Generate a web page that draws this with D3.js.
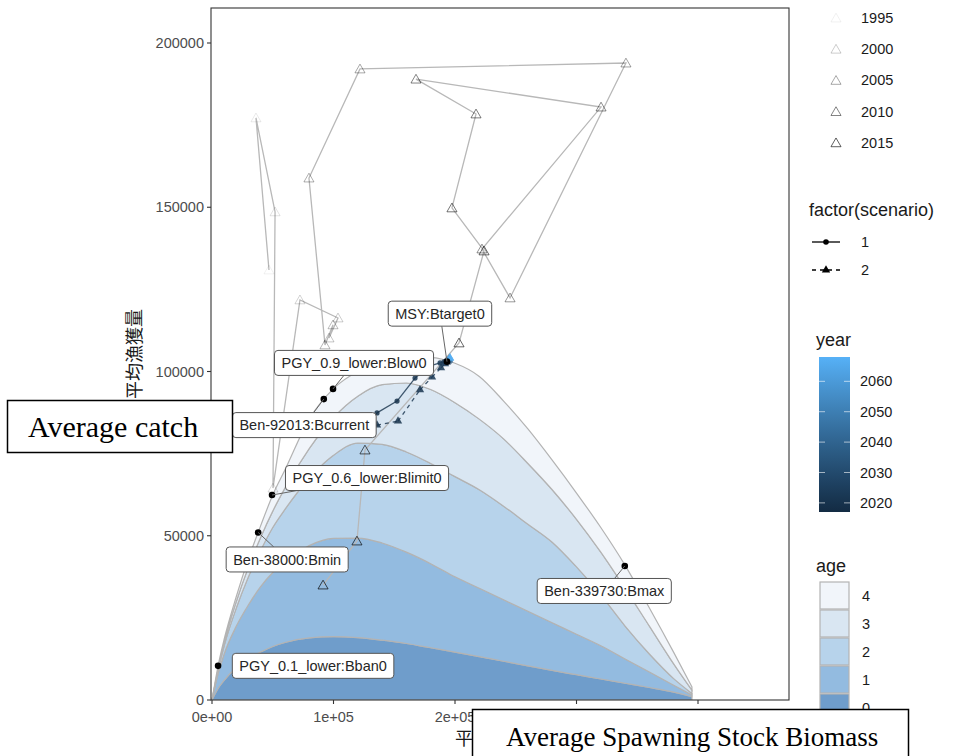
<!DOCTYPE html>
<html>
<head>
<meta charset="utf-8">
<script src="https://cdn.jsdelivr.net/npm/d3@7"></script>
<style>
  body { margin: 0; background: #fff; }
  svg { display: block; }
</style>
</head>
<body>
<svg id="chart" width="959" height="756"></svg>
<script>
// ---------------- data ----------------
// equilibrium catch by age along a grid of average spawning stock biomass
const ssbGrid   = [0,5000,10000,20000,30000,40000,50000,60000,80000,100000,120000,140000,160000,180000,200000,220000,240000,260000,280000,300000,320000,340000,360000,380000,395000];
const catchAge0 = [0,3500,6000,9800,12500,14600,16300,17500,18900,19300,19000,18200,17200,15900,14600,13200,11800,10400,9000,7700,6400,5100,3800,2400,1000];
const catchAge1 = [0,4500,8000,12700,16500,19900,22500,24500,28100,29900,30300,29600,27800,25600,22900,20800,18700,16600,14500,12300,10100,7400,4700,2100,500];
const catchAge2 = [0,1000,2500,5500,8500,11000,13700,16000,20500,25300,28900,30000,30500,30500,30500,30000,28500,26500,24500,20500,15500,10000,5500,2000,500];
const catchAge3 = [0,500,1000,2000,3000,4000,5000,6500,9000,11500,14300,18200,21000,22500,22500,21500,20500,18500,16000,14500,13000,11500,8500,4500,1000];
const catchAge4 = [0,900,1000,1500,2500,3500,4900,5500,9000,8800,7500,6800,7500,9700,12000,13000,11500,10500,9000,8000,7500,7000,5500,3500,1000];
const ageNames  = ["0","1","2","3","4"];

// historical stock-catch trajectory
const histYear  = [1995,1996,1997,1998,1999,2000,2001,2002,2003,2004,2005,2006,2007,2008,2009,2010,2011,2012,2013,2014,2015,2016,2017];
const histSSB   = [46900,36200,51900,50200,72400,103700,96300,99600,93000,79800,121800,340700,245300,222200,320200,167900,217300,197500,223900,203300,125900,119300,91400];
const histCatch = [130900,177200,148600,64500,121800,116300,110200,114200,108100,158900,192100,193900,122400,137300,180500,189000,178400,149800,136700,108700,76100,48400,35000];

// future projections for two harvest scenarios
const projYear   = [2018,2019,2020,2021,2022,2023,2024,2026,2030,2040,2050,2060,2068];
const scen1SSB   = [121800,135800,152300,167100,179400,187700,190900,192600,193400,194200,194600,195100,195100];
const scen1Catch = [82800,87400,91000,98000,101700,102600,102900,103200,103200,103500,103600,103800,103800];
const scen2SSB   = [121800,135800,153100,171200,181100,188500,191800,193400,194200,195100,195100,195900,195900];
const scen2Catch = [82800,83700,84900,94400,98300,101100,102300,102900,103200,103500,103800,104100,104100];

// reference points
const refNames = ["PGY_0.1_lower:Bban0","Ben-38000:Bmin","PGY_0.6_lower:Blimit0","Ben-92013:Bcurrent","PGY_0.9_lower:Blow0","MSY:Btarget0","Ben-339730:Bmax"];
const refSSB   = [5000,38000,49400,92013,99600,193400,339730];
const refCatch = [10400,51000,62400,91600,94700,103000,40800];

// axis ticks
const xTicks = [0,100000,200000,300000,400000];
const xTickLabels = ["0e+00","1e+05","2e+05","3e+05","4e+05"];
const yTicks = [0,50000,100000,150000,200000];
const histLegendYears = [1995,2000,2005,2010,2015];
const yearBarTicks = [2020,2030,2040,2050,2060];

// ---------------- layout ----------------
const svg = d3.select("#chart");
const panel = { left: 211, right: 789, top: 8, bottom: 700 };
const x = d3.scaleLinear().domain([0, 400000]).range([212, 698]);
const y = d3.scaleLinear().domain([0, 200000]).range([700, 43]);

const ageFill = ["#6f9dcb", "#93bbe0", "#b7d3eb", "#d9e6f2", "#f1f5fa"];
const yearColor = d3.scaleLinear().domain([2017, 2068]).range(["#132B43", "#56B1F7"]).interpolate(d3.interpolateLab);
const histAlpha = d3.scaleLinear().domain([1995, 2017]).range([0.06, 0.68]);

// label placement around each reference point (pixel offsets of the label centre)
const labelNudge = [[95,0],[29,27],[95,-17],[-19.5,26],[21,-26],[-7,-48],[-20.5,25]];

const sans = "'Liberation Sans', Arial, sans-serif";
const cjk = "'Noto Sans CJK JP', 'Noto Sans CJK SC', sans-serif";
const serif = "'Liberation Serif', 'Times New Roman', serif";

svg.append("rect").attr("width", 959).attr("height", 756).attr("fill", "#fff");

const defs = svg.append("defs");
defs.append("clipPath").attr("id", "panelClip")
  .append("rect").attr("x", panel.left).attr("y", panel.top)
  .attr("width", panel.right - panel.left).attr("height", panel.bottom - panel.top);

const plot = svg.append("g").attr("clip-path", "url(#panelClip)");

// ---- stacked catch-by-age areas ----
const ageCols = [catchAge0, catchAge1, catchAge2, catchAge3, catchAge4];
const rows = ssbGrid.map((s, i) => {
  const r = { ssb: s };
  ageNames.forEach((a, k) => r["a" + a] = ageCols[k][i]);
  return r;
});
const stacked = d3.stack().keys(ageNames.map(a => "a" + a))(rows);
const area = d3.area()
  .x(d => x(d.data.ssb)).y0(d => y(d[0])).y1(d => y(d[1]))
  .curve(d3.curveMonotoneX);
plot.selectAll("path.age").data(stacked).join("path")
  .attr("class", "age")
  .attr("d", area)
  .attr("fill", (d, i) => ageFill[i])
  .attr("stroke", "#b3b3b3").attr("stroke-width", 1.2);

// ---- historical trajectory ----
const hist = histYear.map((yr, i) => ({ year: yr, ssb: histSSB[i], c: histCatch[i] }));
plot.append("path")
  .attr("d", d3.line().x(d => x(d.ssb)).y(d => y(d.c))(hist))
  .attr("fill", "none").attr("stroke", "#b8b8b8").attr("stroke-width", 1.3);
const tri = d3.symbol().type(d3.symbolTriangle).size(44);
plot.selectAll("path.hist").data(hist).join("path")
  .attr("class", "hist")
  .attr("d", tri)
  .attr("transform", d => `translate(${x(d.ssb)},${y(d.c) + 1})`)
  .attr("fill", "none").attr("stroke", "#000")
  .attr("stroke-opacity", d => histAlpha(d.year)).attr("stroke-width", 1);

// ---- projections ----
function drawScenario(ssb, ct, dashed, marker) {
  const pts = projYear.map((yr, i) => ({ year: yr, ssb: ssb[i], c: ct[i] }));
  const g = plot.append("g");
  for (let i = 0; i < pts.length - 1; i++) {
    g.append("line")
      .attr("x1", x(pts[i].ssb)).attr("y1", y(pts[i].c))
      .attr("x2", x(pts[i + 1].ssb)).attr("y2", y(pts[i + 1].c))
      .attr("stroke", yearColor(pts[i].year)).attr("stroke-width", 1.3)
      .attr("stroke-opacity", 0.8)
      .attr("stroke-dasharray", dashed ? "4,4" : null);
  }
  if (marker === "circle") {
    g.selectAll("circle").data(pts).join("circle")
      .attr("cx", d => x(d.ssb)).attr("cy", d => y(d.c)).attr("r", 2.6)
      .attr("fill", d => yearColor(d.year)).attr("fill-opacity", 0.85);
  } else {
    g.selectAll("path").data(pts).join("path")
      .attr("d", d3.symbol().type(d3.symbolTriangle).size(30))
      .attr("transform", d => `translate(${x(d.ssb)},${y(d.c)})`)
      .attr("fill", d => yearColor(d.year)).attr("fill-opacity", 0.85);
  }
}
drawScenario(scen1SSB, scen1Catch, false, "circle");
drawScenario(scen2SSB, scen2Catch, true, "triangle");

// ---- reference points with boxed labels ----
const refs = refNames.map((n, i) => ({ name: n, ssb: refSSB[i], c: refCatch[i], nudge: labelNudge[i] }));
plot.selectAll("circle.ref").data(refs).join("circle")
  .attr("class", "ref")
  .attr("cx", d => x(d.ssb)).attr("cy", d => y(d.c)).attr("r", 3.3)
  .attr("fill", "#000");

const labG = plot.append("g");
refs.forEach(d => {
  const px = x(d.ssb), py = y(d.c);
  const cx = px + d.nudge[0], cy = py + d.nudge[1];
  const g = labG.append("g");
  const seg = g.append("line");
  const box = g.append("rect");
  const t = g.append("text")
    .attr("x", cx).attr("y", cy).attr("text-anchor", "middle").attr("dy", "0.35em")
    .attr("font-family", sans).attr("font-size", "14.5px").attr("fill", "#262626")
    .text(d.name);
  const w = t.node().getComputedTextLength() + 14, h = 25;
  box.attr("x", cx - w / 2).attr("y", cy - h / 2).attr("width", w).attr("height", h)
    .attr("rx", 3.5).attr("fill", "#fff").attr("stroke", "#555").attr("stroke-width", 1);
  // segment from point to the box edge
  const dx = px - cx, dy = py - cy;
  const tEdge = Math.min(Math.abs((w / 2) / (dx || 1e-9)), Math.abs((h / 2) / (dy || 1e-9)));
  if (tEdge < 1) {
    const ex = cx + dx * tEdge, ey = cy + dy * tEdge;
    const len = Math.hypot(px - ex, py - ey);
    if (len > 15) {
      seg.attr("x1", ex).attr("y1", ey).attr("x2", px).attr("y2", py)
        .attr("stroke", "#666").attr("stroke-width", 1);
    }
  }
});

// ---- panel border ----
svg.append("rect")
  .attr("x", panel.left).attr("y", panel.top)
  .attr("width", panel.right - panel.left).attr("height", panel.bottom - panel.top)
  .attr("fill", "none").attr("stroke", "#333").attr("stroke-width", 1.1);

// ---- axes ----
const axisText = "#4d4d4d";
const yAx = svg.append("g");
yTicks.forEach(v => {
  yAx.append("line").attr("x1", panel.left - 4).attr("x2", panel.left)
    .attr("y1", y(v)).attr("y2", y(v)).attr("stroke", "#333").attr("stroke-width", 1.1);
  yAx.append("text").attr("x", panel.left - 7).attr("y", y(v)).attr("dy", "0.35em")
    .attr("text-anchor", "end").attr("font-family", sans).attr("font-size", "14.5px")
    .attr("fill", axisText).text(String(v));
});
const xAx = svg.append("g");
xTicks.forEach((v, i) => {
  xAx.append("line").attr("x1", x(v)).attr("x2", x(v))
    .attr("y1", panel.bottom).attr("y2", panel.bottom + 4).attr("stroke", "#333").attr("stroke-width", 1.1);
  xAx.append("text").attr("x", x(v)).attr("y", panel.bottom + 17).attr("dy", "0.35em")
    .attr("text-anchor", "middle").attr("font-family", sans).attr("font-size", "14.5px")
    .attr("fill", axisText).text(xTickLabels[i]);
});
svg.append("text")
  .attr("transform", `translate(141,${(panel.top + panel.bottom) / 2}) rotate(-90)`)
  .attr("text-anchor", "middle").attr("font-family", cjk).attr("font-size", "18px")
  .attr("fill", "#1a1a1a").text("平均漁獲量");
svg.append("text")
  .attr("x", (panel.left + panel.right) / 2).attr("y", 745)
  .attr("text-anchor", "middle").attr("font-family", cjk).attr("font-size", "18px")
  .attr("fill", "#1a1a1a").text("平均親魚量");

// ---- legends ----
const leg = svg.append("g");
const legText = "#1a1a1a";
// historical years
histLegendYears.forEach((yr, i) => {
  const cy = 18 + i * 31.2;
  leg.append("path").attr("d", tri).attr("transform", `translate(836,${cy + 1})`)
    .attr("fill", "none").attr("stroke", "#000").attr("stroke-opacity", histAlpha(yr));
  leg.append("text").attr("x", 861).attr("y", cy).attr("dy", "0.35em")
    .attr("font-family", sans).attr("font-size", "14.5px").attr("fill", legText).text(yr);
});
// scenario
leg.append("text").attr("x", 809).attr("y", 216).attr("font-family", sans)
  .attr("font-size", "18px").attr("fill", legText).text("factor(scenario)");
["1", "2"].forEach((s, i) => {
  const cy = 242 + i * 28;
  leg.append("line").attr("x1", 812).attr("x2", 840).attr("y1", cy).attr("y2", cy)
    .attr("stroke", "#000").attr("stroke-width", 1.3).attr("stroke-dasharray", i ? "4,4" : null);
  if (i === 0) leg.append("circle").attr("cx", 826).attr("cy", cy).attr("r", 2.8).attr("fill", "#000");
  else leg.append("path").attr("d", d3.symbol().type(d3.symbolTriangle).size(30))
    .attr("transform", `translate(826,${cy})`).attr("fill", "#000");
  leg.append("text").attr("x", 861).attr("y", cy).attr("dy", "0.35em")
    .attr("font-family", sans).attr("font-size", "14.5px").attr("fill", legText).text(s);
});
// year colour bar
leg.append("text").attr("x", 816).attr("y", 346).attr("font-family", sans)
  .attr("font-size", "18px").attr("fill", legText).text("year");
const barTop = 357, barBot = 512;
const barY = d3.scaleLinear().domain([2017, 2068]).range([barBot, barTop]);
const grad = defs.append("linearGradient").attr("id", "yearGrad")
  .attr("x1", 0).attr("y1", 1).attr("x2", 0).attr("y2", 0);
d3.range(0, 1.0001, 0.1).forEach(f => {
  grad.append("stop").attr("offset", f).attr("stop-color", yearColor(2017 + f * 51));
});
leg.append("rect").attr("x", 819).attr("y", barTop).attr("width", 31).attr("height", barBot - barTop)
  .attr("fill", "url(#yearGrad)");
yearBarTicks.forEach(v => {
  const ty = barY(v);
  leg.append("line").attr("x1", 819).attr("x2", 825).attr("y1", ty).attr("y2", ty).attr("stroke", "#fff").attr("stroke-opacity", 0.6);
  leg.append("line").attr("x1", 844).attr("x2", 850).attr("y1", ty).attr("y2", ty).attr("stroke", "#fff").attr("stroke-opacity", 0.6);
  leg.append("text").attr("x", 860).attr("y", ty).attr("dy", "0.35em")
    .attr("font-family", sans).attr("font-size", "14.5px").attr("fill", legText).text(v);
});
// age keys
leg.append("text").attr("x", 816).attr("y", 572).attr("font-family", sans)
  .attr("font-size", "18px").attr("fill", legText).text("age");
ageNames.slice().reverse().forEach((a, i) => {
  const ky = 582 + i * 28;
  const k = ageNames.length - 1 - i;
  leg.append("rect").attr("x", 820).attr("y", ky).attr("width", 29).attr("height", 27)
    .attr("fill", ageFill[k]).attr("stroke", "#b3b3b3").attr("stroke-width", 1.2);
  leg.append("text").attr("x", 862).attr("y", ky + 14).attr("dy", "0.35em")
    .attr("font-family", sans).attr("font-size", "14.5px").attr("fill", legText).text(a);
});

// ---- English caption boxes ----
const cap = svg.append("g");
cap.append("rect").attr("x", 7.5).attr("y", 400.5).attr("width", 225).attr("height", 52)
  .attr("fill", "#fff").attr("stroke", "#000").attr("stroke-width", 1.5);
cap.append("text").attr("x", 28).attr("y", 437)
  .attr("font-family", serif).attr("font-size", "30px").attr("fill", "#000").text("Average catch");
cap.append("rect").attr("x", 472.5).attr("y", 709.5).attr("width", 436).attr("height", 60)
  .attr("fill", "#fff").attr("stroke", "#000").attr("stroke-width", 1.5);
cap.append("text").attr("x", 506).attr("y", 746)
  .attr("font-family", serif).attr("font-size", "27px").attr("fill", "#000").text("Average Spawning Stock Biomass");
</script>
</body>
</html>
